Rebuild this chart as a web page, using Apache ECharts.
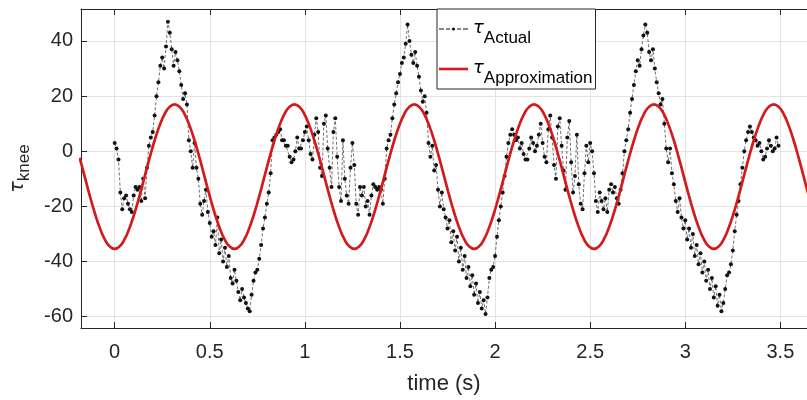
<!DOCTYPE html>
<html>
<head>
<meta charset="utf-8">
<script src="https://cdn.jsdelivr.net/npm/echarts@6/dist/echarts.min.js"></script>
<style>
html, body { margin: 0; padding: 0; background: #fff; }
#chart { width: 807px; height: 400px; }
</style>
</head>
<body>
<div id="chart"></div>
<script>
// measured knee torque, sampled every 0.01 s, one array per stride
const sampleStep = 0.01;
const actualStride1 = [
	3, 1, -3, -15, -21, -17, -16, -19, -21, -22,
	-16, -13, -14, -13, -18, -10, -17, -6, 2, 5,
	7, 13, 20, 25, 31, 34, 30, 38, 47, 43,
	37, 31, 36, 33, 29, 24, 19, 21, 17, 4,
	0, -6, 3, -6, -10, -19, -23, -18, -14, -22,
	-26, -31, -29, -34, -24, -37, -32, -40, -35, -42,
	-38, -46, -48, -43, -47, -51, -54, -50, -53, -55,
	-57, -58, -52, -47, -44, -43, -39, -34, -28, -24,
	-19, -15, -8, 4, 5, 6, 7, 8, 4, 4,
	2, 2, -2, -4, -3, 0, 5, 1, 1, 4,
	7, 9, 4, -1, -3, 6, 12, 7, -6, -9,
	10, 13, 1, -6, -13, 7, 12, -2, -13, -18,
	4, -10, -16, -19, -6
];
const actualStride2 = [
	3, -5, -19, -23, -13, -16, -13, -20, -18, -23,
	-16, -12, -13, -14, -13, -14, -19, -10, 1, 4,
	6, 12, 17, 21, 25, 28, 32, 34, 39, 46,
	40, 35, 32, 36, 31, 27, 22, 18, 20, 14,
	3, -2, 2, -7, -5, -14, -20, -15, -21, -24,
	-28, -25, -33, -29, -36, -31, -40, -35, -43, -38,
	-46, -42, -49, -45, -52, -48, -55, -51, -57, -54,
	-59, -53, -46, -43, -42, -38, -31, -25, -20, -15,
	-9, -2, 3, 6, 8, 6, 4, 5, 1, 3,
	-1, -3, -3, 1, 5, 3, 0, 2, 6, 10,
	3, -2, -4, 8, 13, 5, -5, -10, 9, 12,
	2, -7, -14, 5, 11, -4, -15, -9, 6, -12,
	-19, -21, -8, 2, -4
];
const actualStride3 = [
	3, 0, -8, -18, -22, -15, -18, -21, -17, -22,
	-14, -12, -15, -13, -17, -19, -14, -8, 0, 4,
	8, 14, 19, 24, 29, 33, 31, 37, 42, 46,
	43, 36, 33, 37, 30, 25, 21, 17, 19, 10,
	1, -4, 1, -8, -12, -18, -22, -17, -24, -28,
	-25, -32, -28, -35, -30, -38, -34, -41, -37, -44,
	-40, -47, -43, -50, -46, -53, -49, -56, -52, -58,
	-55, -50, -45, -44, -41, -36, -29, -23, -18, -12,
	-6, 0, 4, 7, 9, 7, 5, 4, 2, 3,
	0, -3, -2, 1, 4, 2, 0, 1, 5, 2
];

// sinusoid fit, every 0.02625 s starting at -0.18375 s
const approxStart = -0.18375;
const approxStep = 0.02625;
const approxValues = [
	-2.4, -9.2, -16.0, -22.3, -27.7, -31.9, -34.5,
	-35.4, -34.5, -31.9, -27.7, -22.3, -16.0, -9.2, -2.4, 3.9, 9.3, 13.5, 16.1, 17.0, 16.1, 13.5, 9.3, 3.9, -2.4, -9.2, -16.0, -22.3, -27.7, -31.9, -34.5,
	-35.4, -34.5, -31.9, -27.7, -22.3, -16.0, -9.2, -2.4, 3.9, 9.3, 13.5, 16.1, 17.0, 16.1, 13.5, 9.3, 3.9, -2.4, -9.2, -16.0, -22.3, -27.7, -31.9, -34.5,
	-35.4, -34.5, -31.9, -27.7, -22.3, -16.0, -9.2, -2.4, 3.9, 9.3, 13.5, 16.1, 17.0, 16.1, 13.5, 9.3, 3.9, -2.4, -9.2, -16.0, -22.3, -27.7, -31.9, -34.5,
	-35.4, -34.5, -31.9, -27.7, -22.3, -16.0, -9.2, -2.4, 3.9, 9.3, 13.5, 16.1, 17.0, 16.1, 13.5, 9.3, 3.9, -2.4, -9.2, -16.0, -22.3, -27.7, -31.9, -34.5,
	-35.4, -34.5, -31.9, -27.7, -22.3, -16.0, -9.2, -2.4, 3.9, 9.3, 13.5, 16.1, 17.0, 16.1, 13.5, 9.3, 3.9, -2.4, -9.2, -16.0, -22.3, -27.7, -31.9, -34.5,
	-35.4, -34.5, -31.9, -27.7, -22.3, -16.0, -9.2, -2.4, 3.9, 9.3, 13.5, 16.1, 17.0, 16.1, 13.5, 9.3, 3.9, -2.4, -9.2, -16.0
];

const xRange = [-0.177, 3.64];
const yRange = [-64.1, 51.6];

const font = "'Liberation Sans', Arial, sans-serif";
const axisColor = "#262626";

const actualData = [];
[actualStride1, actualStride2, actualStride3].forEach((stride) => {
	stride.forEach((v) => {
		actualData.push([+(actualData.length * sampleStep).toFixed(2), v]);
	});
});
const approxData = approxValues.map((v, i) => [+(approxStart + i * approxStep).toFixed(5), v]);

// legend icons: "- - • - -" for the samples, a thick bar for the fit
const actualIcon = "path://M0,1h5v1H0z M7,1h4v1H7z M12.9,1.5a1.6,1.6 0 1,0 3.2,0a1.6,1.6 0 1,0 -3.2,0z M18,1h4v1h-4z M24,1h5v1h-5z";
const approxIcon = "path://M0,0h29v2.6H0z";

const chart = echarts.init(document.getElementById("chart"));
chart.setOption({
	animation: false,
	grid: { left: 81, right: 0, top: 9, bottom: 71 },
	legend: {
		orient: "vertical",
		left: 437,
		top: 9,
		backgroundColor: "#fff",
		borderColor: axisColor,
		borderWidth: 1,
		borderRadius: 0,
		padding: [10, 3, 2, 2],
		itemGap: 12,
		itemWidth: 29,
		itemHeight: 14,
		symbolKeepAspect: true,
		formatter: (name) => "{tau|τ}{sub|" + name + "}",
		textStyle: {
			color: "#000",
			fontFamily: font,
			rich: {
				tau: { fontSize: 18, fontStyle: "italic", fontFamily: "'DejaVu Sans', sans-serif", padding: [8, 0, 0, 0], verticalAlign: "top" },
				sub: { fontSize: 17, fontFamily: font, padding: [19, 0, 0, 0], verticalAlign: "top" },
			},
		},
		data: [
			{ name: "Actual", icon: actualIcon },
			{ name: "Approximation", icon: approxIcon },
		],
	},
	xAxis: [
		{
			type: "value",
			min: xRange[0],
			max: xRange[1],
			splitNumber: 8,
			name: "time (s)",
			nameLocation: "middle",
			nameGap: 45,
			nameTextStyle: { fontSize: 22, color: axisColor, fontFamily: font },
			axisLine: { show: true, onZero: false, lineStyle: { color: axisColor, width: 1 } },
			axisTick: { show: true, inside: true, length: 6, lineStyle: { color: axisColor } },
			axisLabel: { fontSize: 20, color: axisColor, fontFamily: font, margin: 14, showMinLabel: false, showMaxLabel: false },
			splitLine: { show: true, lineStyle: { color: "#e3e3e3", width: 1 } },
		},
		{
			type: "value",
			position: "top",
			min: xRange[0],
			max: xRange[1],
			splitNumber: 8,
			axisLine: { show: true, onZero: false, lineStyle: { color: axisColor, width: 1 } },
			axisTick: { show: true, inside: true, length: 6, lineStyle: { color: axisColor } },
			axisLabel: { show: false },
			splitLine: { show: false },
		},
	],
	yAxis: {
		type: "value",
		min: yRange[0],
		max: yRange[1],
		splitNumber: 6,
		name: "{tau|τ}{sub|knee}",
		nameLocation: "middle",
		nameRotate: 90,
		nameGap: 40,
		nameTextStyle: {
			color: axisColor,
			rich: {
				tau: { fontSize: 19, fontStyle: "italic", fontFamily: "'DejaVu Sans', sans-serif", color: axisColor, verticalAlign: "top" },
				sub: { fontSize: 17, fontFamily: font, color: axisColor, padding: [8, 0, 0, 0], verticalAlign: "top" },
			},
		},
		axisLine: { show: true, onZero: false, lineStyle: { color: axisColor, width: 1 } },
		axisTick: { show: true, inside: true, length: 6, lineStyle: { color: axisColor } },
		axisLabel: { fontSize: 20, color: axisColor, fontFamily: font, margin: 8, showMinLabel: false, showMaxLabel: false },
		splitLine: { show: true, lineStyle: { color: "#e3e3e3", width: 1 } },
	},
	series: [
		{
			name: "Actual",
			type: "line",
			data: actualData,
			symbol: "circle",
			symbolSize: 4,
			showAllSymbol: true,
			itemStyle: { color: "#111" },
			lineStyle: { color: "#333", width: 0.7, type: [3, 2] },
			z: 2,
		},
		{
			name: "Approximation",
			type: "line",
			data: approxData,
			smooth: 0.5,
			symbol: "none",
			lineStyle: { color: "#d41a1a", width: 2.7 },
			itemStyle: { color: "#d41a1a" },
			z: 3,
		},
	],
});
</script>
</body>
</html>
